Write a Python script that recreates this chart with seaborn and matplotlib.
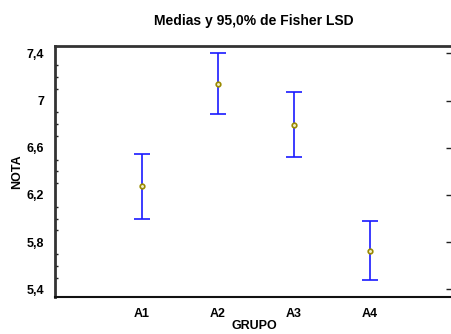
import numpy as np
import matplotlib
matplotlib.use("Agg")
import matplotlib.pyplot as plt
import seaborn as sns
from matplotlib.ticker import MultipleLocator

# Medias e intervalos LSD (95,0%)
grupos = ["A1", "A2", "A3", "A4"]
medias = [6.272, 7.14, 6.797, 5.722]
limite_inf = [5.997, 6.887, 6.518, 5.48]
limite_sup = [6.549, 7.40, 7.076, 5.977]

yticks = [5.4, 5.8, 6.2, 6.6, 7.0, 7.4]
ytick_labels = ["5,4", "5,8", "6,2", "6,6", "7", "7,4"]

sns.set_style("white")
plt.rcParams["font.family"] = ["Liberation Sans", "DejaVu Sans"]
plt.rcParams["font.weight"] = "bold"
plt.rcParams["text.color"] = "black"
plt.rcParams["axes.labelcolor"] = "black"
plt.rcParams["xtick.labelcolor"] = "black"
plt.rcParams["ytick.labelcolor"] = "black"

fig = plt.figure(figsize=(4.51, 3.34), dpi=100)
ax = fig.add_axes([0.122, 0.110, 0.882, 0.752])

pos = np.arange(len(grupos))
med = np.array(medias)
err = np.vstack([med - np.array(limite_inf), np.array(limite_sup) - med])

ax.errorbar(pos, med, yerr=err, fmt="none", ecolor="#1a1aff",
            elinewidth=1.2, capsize=6, capthick=1.2, zorder=2)
sns.scatterplot(x=pos, y=medias, ax=ax, marker="o", s=11,
                facecolor="#f4f0c8", edgecolor="#9a8a00", linewidth=1.2,
                zorder=3)

ax.set_xlim(-1.144, 4.09)
ax.set_ylim(5.333, 7.462)

ax.set_xticks(pos)
ax.set_xticklabels(grupos, fontweight="bold")
ax.set_yticks(yticks)
ax.set_yticklabels(ytick_labels, fontweight="bold")
ax.yaxis.set_minor_locator(MultipleLocator(0.1))

ax.tick_params(axis="x", length=0, labelsize=9, pad=8)
ax.tick_params(axis="y", which="major", direction="in", length=5,
               width=1, labelsize=9, pad=8, right=True, color="#222222")
ax.tick_params(axis="y", which="minor", direction="in", length=2.5,
               width=1, left=True, right=False, color="#222222")

for s in ["left", "top"]:
    ax.spines[s].set_linewidth(2)
    ax.spines[s].set_color("#333333")
ax.spines["bottom"].set_linewidth(1.5)
ax.spines["bottom"].set_color("#111111")
ax.spines["right"].set_visible(False)

ax.set_xlabel("GRUPO", fontsize=9, fontweight="bold", labelpad=0)
ax.set_ylabel("NOTA", fontsize=9, fontweight="bold", labelpad=2)
ax.set_title("Medias y 95,0% de Fisher LSD", fontsize=10,
             fontweight="bold", pad=15)

fig.savefig("out.png", dpi=100)
